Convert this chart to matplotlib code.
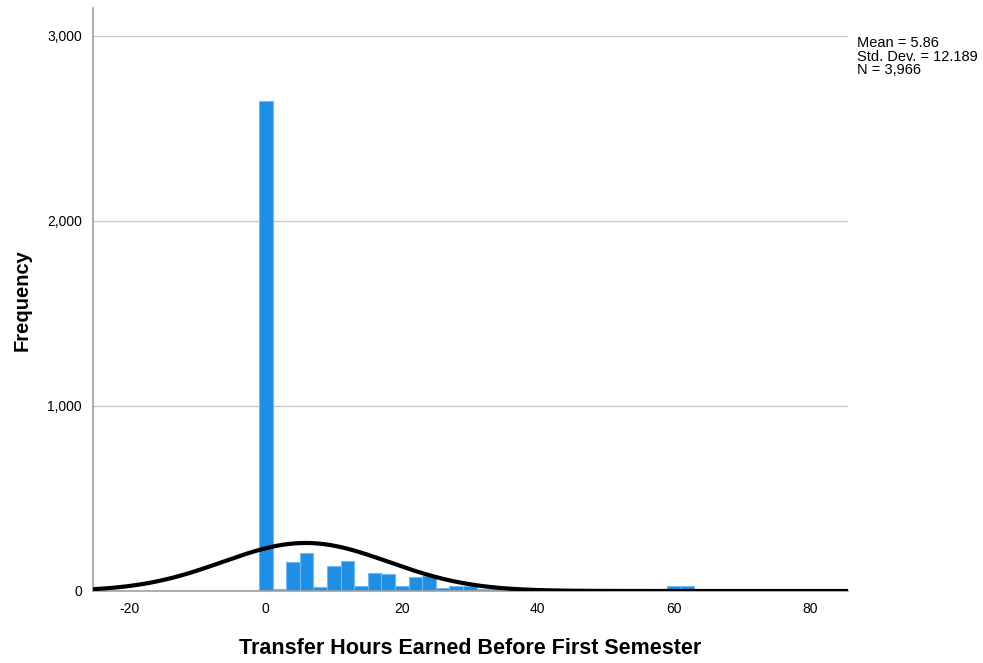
import numpy as np
import matplotlib
matplotlib.use('Agg')
import matplotlib.pyplot as plt

plt.rcParams['font.family'] = ['Liberation Sans', 'DejaVu Sans']
plt.rcParams['axes.unicode_minus'] = False

# histogram bins (centres, width 2) and counts
bin_centers = [0, 2, 4, 6, 8, 10, 12, 14, 16, 18, 20, 22, 24, 26, 28, 30,
               32, 34, 36, 38, 40, 42, 44, 46, 48, 50, 52, 54, 56, 58, 60, 62]
counts = [2649, 10, 158, 204, 20, 135, 164, 27, 99, 92, 29, 77, 81, 16, 29, 25,
          12, 9, 5, 3, 4, 2, 2, 1, 2, 1, 1, 1, 1, 3, 25, 25]
bin_width = 2

mean = 5.86
std_dev = 12.189
n = 3966

x_ticks = [-20, 0, 20, 40, 60, 80]
y_ticks = [0, 1000, 2000, 3000]
y_ticklabels = ['0', '1,000', '2,000', '3,000']

fig = plt.figure(figsize=(9.83, 6.63), dpi=100)
ax = fig.add_axes([0.0946, 0.1086, 0.768, 0.879])

ax.bar(bin_centers, counts, width=bin_width, color='#1e8fe6',
       edgecolor='#72b8f0', linewidth=0.8, zorder=2)

# fitted normal curve from the stated statistics
xmin, xmax = -25.4, 85.6
xs = np.linspace(xmin, xmax, 500)
ys = n * bin_width * np.exp(-0.5 * ((xs - mean) / std_dev) ** 2) / (std_dev * np.sqrt(2 * np.pi))
ax.plot(xs, ys, color='black', linewidth=3, zorder=3)

ax.set_xlim(xmin, xmax)
ax.set_ylim(0, 3150)
ax.set_xticks(x_ticks)
ax.set_yticks(y_ticks)
ax.set_yticklabels(y_ticklabels)
ax.tick_params(length=0, labelsize=10, pad=8)
ax.yaxis.grid(True, color='#c8c8c8', linewidth=1)
ax.set_axisbelow(True)

for s in ['top', 'right']:
    ax.spines[s].set_visible(False)
for s in ['left', 'bottom']:
    ax.spines[s].set_color('#a0a0a0')
    ax.spines[s].set_linewidth(1.2)

ax.set_xlabel('Transfer Hours Earned Before First Semester', fontsize=15.5,
              fontweight='bold', labelpad=16)
ax.set_ylabel('Frequency', fontsize=14.5, fontweight='bold', labelpad=11)

fig.text(0.872, 0.9457, 'Mean = 5.86\nStd. Dev. = 12.189\nN = 3,966',
         fontsize=10.5, va='top', ha='left', linespacing=0.97)

fig.savefig('out.png', dpi=100)
